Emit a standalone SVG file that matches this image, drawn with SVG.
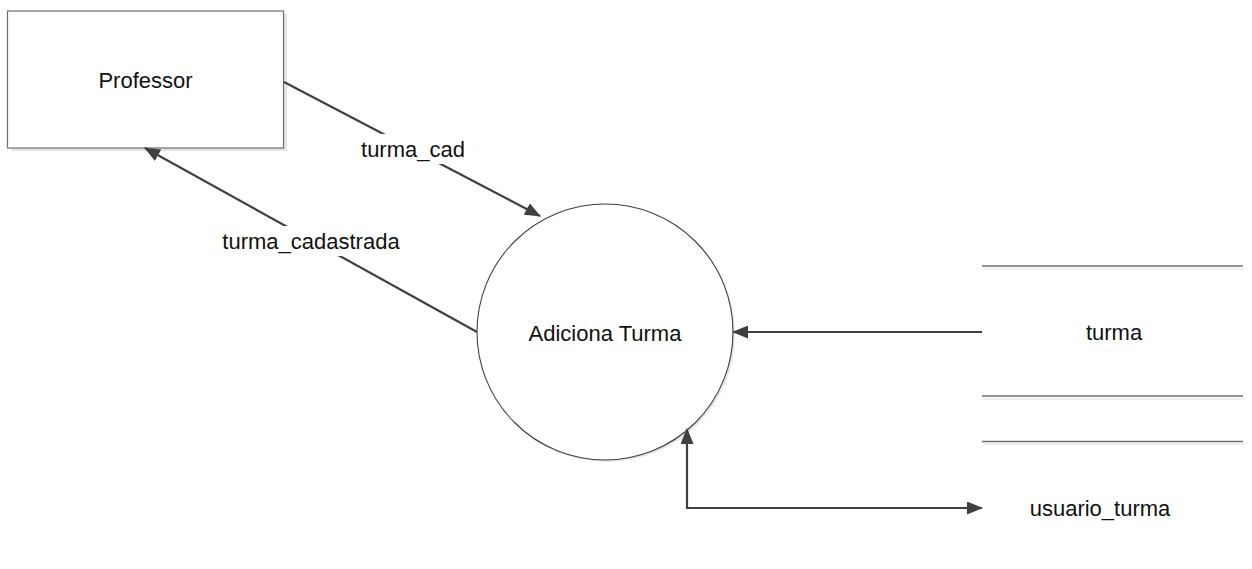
<svg xmlns="http://www.w3.org/2000/svg" width="1252" height="569" viewBox="0 0 1252 569">
  <style>
    .lbl { font-family: "Liberation Sans", Arial, sans-serif; font-size: 22px; fill: #111; text-anchor: middle; }
    .flow { fill: none; stroke: #404040; stroke-width: 2.2; }
    .storeline { stroke: #6f6f6f; stroke-width: 1.3; }
    .storeshadow { stroke: #ececec; stroke-width: 1.5; }
  </style>
  <defs>
    <marker id="arrow" viewBox="0 0 16 13" refX="15" refY="6.5" markerWidth="16" markerHeight="13" markerUnits="userSpaceOnUse" orient="auto-start-reverse">
      <path d="M0,0 L16,6.5 L0,13 Z" fill="#404040"/>
    </marker>
  </defs>
  <rect width="1252" height="569" fill="#fff"/>

  <!-- external entity -->
  <g id="professor">
    <rect x="11" y="14" width="276" height="137" fill="#e4e4e4"/>
    <rect x="7.5" y="11" width="276" height="137" fill="#fff" stroke="#6e6e6e" stroke-width="1.2"/>
    <text class="lbl" x="145.5" y="88">Professor</text>
  </g>

  <!-- process -->
  <g id="adiciona-turma">
    <circle cx="607" cy="334" r="128" fill="#e6e6e6"/>
    <circle cx="605" cy="332" r="128" fill="#fff" stroke="#404040" stroke-width="1.1"/>
    <text class="lbl" x="605" y="341">Adiciona Turma</text>
  </g>

  <!-- data stores -->
  <g id="turma">
    <line class="storeshadow" x1="984" y1="269" x2="1245" y2="269"/>
    <line class="storeline" x1="982" y1="266" x2="1243" y2="266"/>
    <line class="storeshadow" x1="984" y1="399" x2="1245" y2="399"/>
    <line class="storeline" x1="982" y1="396" x2="1243" y2="396"/>
    <text class="lbl" x="1114" y="340">turma</text>
  </g>
  <g id="usuario-turma">
    <line class="storeshadow" x1="984" y1="444" x2="1245" y2="444"/>
    <line class="storeline" x1="982" y1="441.5" x2="1243" y2="441.5" stroke-width="1.8" stroke="#888"/>
    <text class="lbl" x="1100" y="516">usuario_turma</text>
  </g>

  <!-- data flows -->
  <g id="connectors">
    <line class="flow" x1="284" y1="82" x2="540" y2="216" marker-end="url(#arrow)"/>
    <line class="flow" x1="477" y1="332" x2="145" y2="148" marker-end="url(#arrow)"/>
    <line class="flow" x1="982" y1="332" x2="733" y2="332" marker-end="url(#arrow)"/>
    <polyline class="flow" points="687,429 687,508 982,508" marker-start="url(#arrow)" marker-end="url(#arrow)"/>

    <rect x="354" y="134" width="118" height="30" fill="#fff"/>
    <text class="lbl" x="413" y="157">turma_cad</text>
    <rect x="218" y="226" width="186" height="30" fill="#fff"/>
    <text class="lbl" x="311" y="249">turma_cadastrada</text>
  </g>
</svg>
